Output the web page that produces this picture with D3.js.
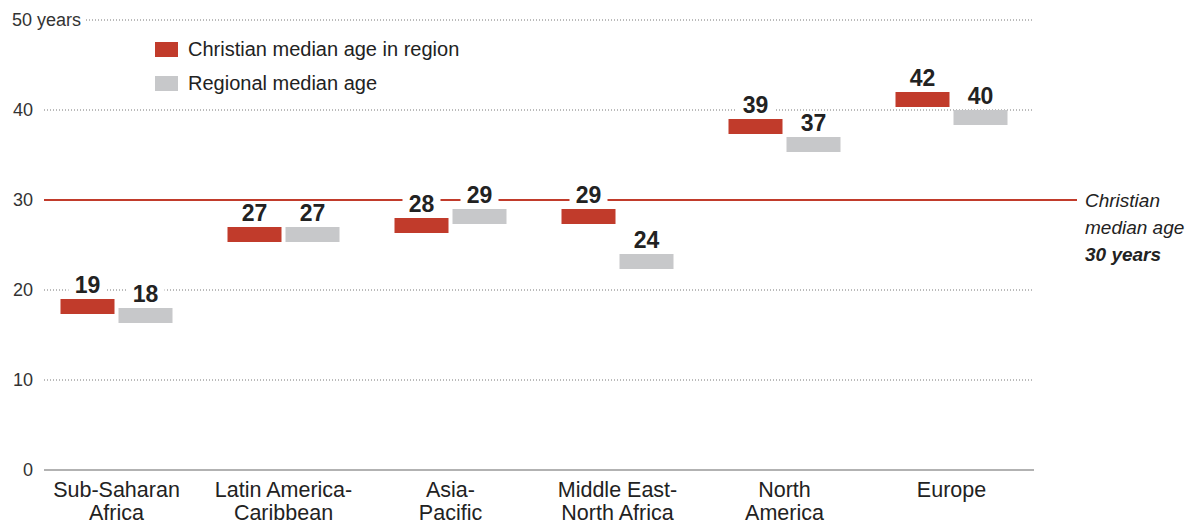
<!DOCTYPE html>
<html><head><meta charset="utf-8">
<script src="https://cdn.jsdelivr.net/npm/d3@7"></script>
<style>
body{margin:0;background:#fff;}
svg{display:block;font-family:"Liberation Sans","Roboto",sans-serif;}
</style></head>
<body>
<svg id="chart" width="1190" height="525"></svg>
<script>
const categories = [["Sub-Saharan","Africa"],["Latin America-","Caribbean"],["Asia-","Pacific"],["Middle East-","North Africa"],["North","America"],["Europe"]];
const christianAge = [19, 27, 28, 29, 39, 42];
const regionalAge = [18, 27, 29, 24, 37, 40];
const yTicks = [0, 10, 20, 30, 40, 50];
const christianOverall = 30;
const seriesNames = ["Christian median age in region", "Regional median age"];

const RED = "#c13b2b", GRAY = "#c7c8ca";
const svg = d3.select("#chart");
const y = d3.scaleLinear().domain([0, 50]).range([470, 20]);
const x = d3.scaleBand().domain(d3.range(categories.length)).range([33, 1035]).padding(0);
const barW = 54, gap = 4, barH = 15;

// gridlines
yTicks.forEach(t => {
  if (t === 0) return;
  svg.append("line").attr("x1", t === 50 ? 86 : 44).attr("x2", 1034)
    .attr("y1", y(t)).attr("y2", y(t))
    .attr("stroke", "#777").attr("stroke-width", 1).attr("stroke-dasharray", "1,2");
});
// tick labels
yTicks.forEach(t => {
  const tx = svg.append("text").attr("x", 33).attr("y", y(t)).attr("dy", "0.35em")
    .attr("text-anchor", "end").attr("font-size", 18).attr("fill", "#333").text(t);
  if (t === 50) {
    tx.attr("text-anchor", "start").attr("x", 12).text("50 years");
  }
});
// baseline
svg.append("line").attr("x1", 44).attr("x2", 1034).attr("y1", y(0)).attr("y2", y(0))
  .attr("stroke", "#666").attr("stroke-width", 1.2);

// 30 line
svg.append("line").attr("x1", 44).attr("x2", 1077).attr("y1", y(christianOverall)).attr("y2", y(christianOverall))
  .attr("stroke", RED).attr("stroke-width", 2);
const ann = svg.append("text").attr("x", 1085).attr("font-size", 19).attr("fill", "#222").attr("font-style", "italic");
ann.append("tspan").attr("x", 1085).attr("y", y(christianOverall) + 7).text("Christian");
ann.append("tspan").attr("x", 1085).attr("y", y(christianOverall) + 34).text("median age");
ann.append("tspan").attr("x", 1085).attr("y", y(christianOverall) + 61).attr("font-weight", "bold").text("30 years");

// bars
const data = [];
categories.forEach((c, i) => {
  data.push({i, v: christianAge[i], color: RED, x: x(i) + x.bandwidth() / 2 - gap / 2 - barW});
  data.push({i, v: regionalAge[i], color: GRAY, x: x(i) + x.bandwidth() / 2 + gap / 2});
});
svg.selectAll("rect.bar").data(data).enter().append("rect").attr("class", "bar")
  .attr("x", d => d.x).attr("y", d => y(d.v)).attr("width", barW).attr("height", barH)
  .attr("fill", d => d.color);

// labels with knockout
const lab = svg.selectAll("g.lab").data(data).enter().append("g").attr("class", "lab");
lab.append("rect").attr("x", d => d.x + barW / 2 - 19).attr("y", d => y(d.v) - 26)
  .attr("width", 38).attr("height", 22).attr("fill", "#fff");
lab.append("text").attr("x", d => d.x + barW / 2).attr("y", d => y(d.v) - 6)
  .attr("text-anchor", "middle").attr("font-size", 23).attr("font-weight", "bold")
  .attr("fill", "#222").text(d => d.v);

// category labels
categories.forEach((c, i) => {
  const t = svg.append("text").attr("text-anchor", "middle").attr("font-size", 21.5).attr("fill", "#222");
  c.forEach((line, k) => t.append("tspan").attr("x", x(i) + x.bandwidth() / 2).attr("y", 497 + k * 23).text(line));
});

// legend
[RED, GRAY].forEach((col, k) => {
  svg.append("rect").attr("x", 155).attr("y", 42 + k * 34).attr("width", 23).attr("height", 15).attr("fill", col);
  svg.append("text").attr("x", 188).attr("y", 56 + k * 34).attr("font-size", 20).attr("fill", "#222").text(seriesNames[k]);
});
</script>
</body></html>
